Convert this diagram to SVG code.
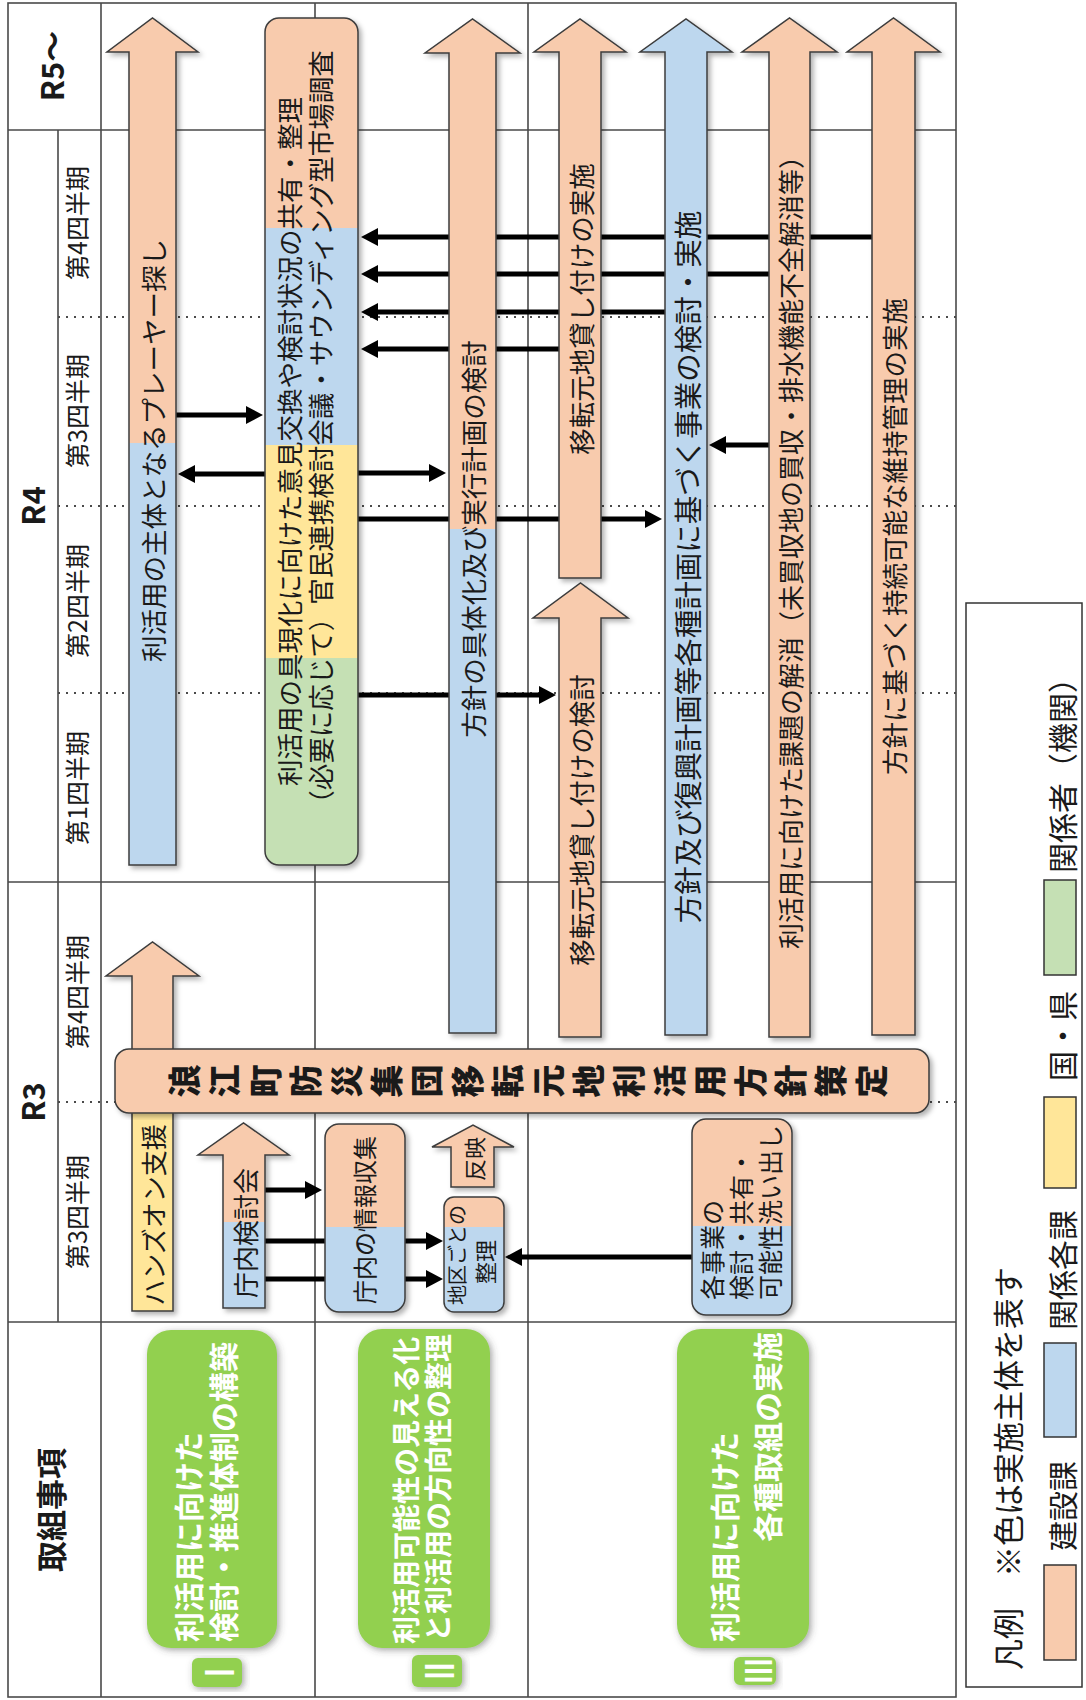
<svg xmlns="http://www.w3.org/2000/svg" width="1086" height="1700" viewBox="0 0 1086 1700">
<style>
.grid{stroke:#4a4a4a;stroke-width:1.6;fill:none}
.dot{stroke:#4a4a4a;stroke-width:2;stroke-dasharray:2 6;fill:none}
.sh{stroke:#3c3c3c;stroke-width:1.5;filter:url(#ds)}
.or{fill:#F8CBAD}
.bl{fill:#BDD7EE}
.ye{fill:#FFE699}
.gr{fill:#C5E0B4}
.lab{fill:#92D050;filter:url(#glow)}
.sw{stroke:#333;stroke-width:1.5}
.conn{stroke:#000;stroke-width:5;fill:none;marker-end:url(#ah)}
text{font-family:"Noto Sans CJK JP","Noto Sans",sans-serif;fill:#1a1a1a;dominant-baseline:central}
.m{text-anchor:middle}
.s{text-anchor:start}
.e{text-anchor:end}
.f26{font-size:26.5px}
.hd{font-weight:700;font-size:31px}
.q{font-size:25px}
.w{fill:#fff;font-weight:700}
.lg{font-size:30px}
.rn{font-size:26px}
</style>
<defs>
<filter id="ds" x="-20%" y="-5%" width="150%" height="115%"><feDropShadow dx="3" dy="3" stdDeviation="2.5" flood-color="#000" flood-opacity="0.3"/></filter>
<filter id="glow" x="-15%" y="-10%" width="130%" height="125%"><feDropShadow dx="2" dy="2" stdDeviation="3.5" flood-color="#444" flood-opacity="0.5"/></filter>
<marker id="ah" markerUnits="userSpaceOnUse" markerWidth="17" markerHeight="18" refX="8" refY="9" orient="auto"><path d="M0,0 L17,9 L0,18 z" fill="#000"/></marker>
<linearGradient id="gA1" gradientUnits="userSpaceOnUse" x1="0" y1="18" x2="0" y2="865"><stop offset="0" stop-color="#F8CBAD"/><stop offset="0.502" stop-color="#F8CBAD"/><stop offset="0.502" stop-color="#BDD7EE"/><stop offset="1" stop-color="#BDD7EE"/></linearGradient>
<linearGradient id="gR2" gradientUnits="userSpaceOnUse" x1="0" y1="18" x2="0" y2="865"><stop offset="0" stop-color="#F8CBAD"/><stop offset="0.248" stop-color="#F8CBAD"/><stop offset="0.248" stop-color="#BDD7EE"/><stop offset="0.504" stop-color="#BDD7EE"/><stop offset="0.504" stop-color="#FFE699"/><stop offset="0.756" stop-color="#FFE699"/><stop offset="0.756" stop-color="#C5E0B4"/><stop offset="1" stop-color="#C5E0B4"/></linearGradient>
<linearGradient id="gA3" gradientUnits="userSpaceOnUse" x1="0" y1="19" x2="0" y2="1033"><stop offset="0" stop-color="#F8CBAD"/><stop offset="0.503" stop-color="#F8CBAD"/><stop offset="0.503" stop-color="#BDD7EE"/><stop offset="1" stop-color="#BDD7EE"/></linearGradient>
<linearGradient id="gAH" gradientUnits="userSpaceOnUse" x1="0" y1="942" x2="0" y2="1311"><stop offset="0" stop-color="#F8CBAD"/><stop offset="0.40" stop-color="#F8CBAD"/><stop offset="0.40" stop-color="#FFE699"/><stop offset="1" stop-color="#FFE699"/></linearGradient>
<linearGradient id="gAK" gradientUnits="userSpaceOnUse" x1="0" y1="1123" x2="0" y2="1308"><stop offset="0" stop-color="#F8CBAD"/><stop offset="0.535" stop-color="#F8CBAD"/><stop offset="0.535" stop-color="#BDD7EE"/><stop offset="1" stop-color="#BDD7EE"/></linearGradient>
<linearGradient id="gRJ" gradientUnits="userSpaceOnUse" x1="0" y1="1124" x2="0" y2="1312"><stop offset="0" stop-color="#F8CBAD"/><stop offset="0.548" stop-color="#F8CBAD"/><stop offset="0.548" stop-color="#BDD7EE"/><stop offset="1" stop-color="#BDD7EE"/></linearGradient>
<linearGradient id="gRC" gradientUnits="userSpaceOnUse" x1="0" y1="1197" x2="0" y2="1312"><stop offset="0" stop-color="#F8CBAD"/><stop offset="0.261" stop-color="#F8CBAD"/><stop offset="0.261" stop-color="#BDD7EE"/><stop offset="1" stop-color="#BDD7EE"/></linearGradient>
<linearGradient id="gRK" gradientUnits="userSpaceOnUse" x1="0" y1="1119" x2="0" y2="1315"><stop offset="0" stop-color="#F8CBAD"/><stop offset="0.546" stop-color="#F8CBAD"/><stop offset="0.546" stop-color="#BDD7EE"/><stop offset="1" stop-color="#BDD7EE"/></linearGradient>
</defs>
<rect width="1086" height="1700" fill="#fff"/>

<g id="table">
<rect class="grid" x="8" y="3" width="948" height="1694"/>
<path class="grid" d="M101,3 V1697 M315,3 V1697 M528,3 V1697 M58,130 V1322 M8,130 H956 M8,882 H956 M8,1322 H956"/>
<path class="dot" d="M58,317 H956 M58,506 H956 M58,693 H956 M58,1102 H956"/>
<text class="m hd" x="50" y="66" transform="rotate(-90 50 66)">R5～</text>
<text class="m hd" x="31" y="506" transform="rotate(-90 31 506)">R4</text>
<text class="m hd" x="31" y="1102" transform="rotate(-90 31 1102)">R3</text>
<text class="m hd" x="49" y="1510" transform="rotate(-90 49 1510)">取組事項</text>
<text class="m q" x="76" y="223" transform="rotate(-90 76 223)">第4四半期</text>
<text class="m q" x="76" y="411" transform="rotate(-90 76 411)">第3四半期</text>
<text class="m q" x="76" y="601" transform="rotate(-90 76 601)">第2四半期</text>
<text class="m q" x="76" y="788" transform="rotate(-90 76 788)">第1四半期</text>
<text class="m q" x="76" y="992" transform="rotate(-90 76 992)">第4四半期</text>
<text class="m q" x="76" y="1212" transform="rotate(-90 76 1212)">第3四半期</text>
</g>

<g id="connectors">
<path class="conn" d="M176,415 H254"/>
<path class="conn" d="M265,474 H187"/>
<path class="conn" d="M358,473 H437"/>
<path class="conn" d="M358,519 H653"/>
<path class="conn" d="M358,695 H547"/>
<path class="conn" d="M769,445 H718"/>
<path class="conn" d="M872,237 H370"/>
<path class="conn" d="M769,274 H370"/>
<path class="conn" d="M665,312 H370"/>
<path class="conn" d="M559,349 H370"/>
<path class="conn" d="M265,1190 H313"/>
<path class="conn" d="M265,1241 H434"/>
<path class="conn" d="M265,1279 H434"/>
<path class="conn" d="M692,1257 H514"/>
</g>

<g id="arrow-player">
<polygon class="sh" fill="url(#gA1)" points="129,865 129,52 107,52 152.5,18 198,52 176,52 176,865"/>
<text class="m f26" x="152.5" y="450.5" transform="rotate(-90 152.5 450.5)">利活用の主体となるプレーヤー探し</text>
</g>

<g id="box-opinion">
<rect class="sh" fill="url(#gR2)" x="265" y="18" width="93" height="847" rx="14"/>
<text class="m f26" x="288" y="441.5" transform="rotate(-90 288 441.5)">利活用の具現化に向けた意見交換や検討状況の共有・整理</text>
<text class="m f26" x="319" y="433.5" transform="rotate(-90 319 433.5)">（必要に応じて）官民連携検討会議・サウンディング型市場調査</text>
</g>

<g id="arrow-policy-plan">
<polygon class="sh" fill="url(#gA3)" points="449,1033 449,53 425,53 472.5,19 520,53 496,53 496,1033"/>
<text class="m f26" x="472.5" y="539" transform="rotate(-90 472.5 539)">方針の具体化及び実行計画の検討</text>
</g>

<g id="arrow-lease-do">
<polygon class="sh or" points="559,578 559,52 534,52 580,19 626,52 601,52 601,578"/>
<text class="m f26" x="580" y="309" transform="rotate(-90 580 309)">移転元地貸し付けの実施</text>
</g>

<g id="arrow-lease-study">
<polygon class="sh or" points="559,1037 559,618 533,618 580.5,583 628,618 601,618 601,1037"/>
<text class="m f26" x="580" y="820" transform="rotate(-90 580 820)">移転元地貸し付けの検討</text>
</g>

<g id="arrow-projects">
<polygon class="sh bl" points="665,1035 665,52 640,52 686,19 732,52 707,52 707,1035"/>
<text class="m" style="font-size:28.5px" x="686" y="567" transform="rotate(-90 686 567)">方針及び復興計画等各種計画に基づく事業の検討・実施</text>
</g>

<g id="arrow-issues">
<polygon class="sh or" points="769,1037 769,52 742,52 789.5,18 837,52 810,52 810,1037"/>
<text class="m" style="font-size:26px" x="789" y="546" transform="rotate(-90 789 546)">利活用に向けた課題の解消（未買収地の買収・排水機能不全解消等）</text>
</g>

<g id="arrow-maintenance">
<polygon class="sh or" points="872,1035 872,52 847,52 893.5,18 940,52 915,52 915,1035"/>
<text class="m f26" x="893" y="536.5" transform="rotate(-90 893 536.5)">方針に基づく持続可能な維持管理の実施</text>
</g>

<g id="arrow-handson">
<polygon class="sh" fill="url(#gAH)" points="132,1311 132,976 106,976 152.5,942 199,976 173,976 173,1311"/>
<text class="m" style="font-size:26px" x="152.5" y="1215" transform="rotate(-90 152.5 1215)">ハンズオン支援</text>
</g>

<g id="arrow-internal-meeting">
<polygon class="sh" fill="url(#gAK)" points="223,1308 223,1155 198,1155 243.5,1123 289,1155 265,1155 265,1308"/>
<text class="m" style="font-size:26px" x="244" y="1233" transform="rotate(-90 244 1233)">庁内検討会</text>
</g>

<g id="box-info">
<rect class="sh" fill="url(#gRJ)" x="325" y="1124" width="80" height="188" rx="14"/>
<text class="m" style="font-size:24px" x="363" y="1220" transform="rotate(-90 363 1220)">庁内の情報収集</text>
</g>

<g id="arrow-reflect">
<polygon class="sh or" points="451,1187 451,1147 432,1147 473,1125 514,1147 494,1147 494,1187"/>
<text class="m" style="font-size:22px" x="472.5" y="1159" transform="rotate(-90 472.5 1159)">反映</text>
</g>

<g id="box-district">
<rect class="sh" fill="url(#gRC)" x="444" y="1197" width="60" height="115" rx="10"/>
<text class="m" style="font-size:20px" x="456" y="1255" transform="rotate(-90 456 1255)">地区ごとの</text>
<text class="m" style="font-size:22px" x="484" y="1262" transform="rotate(-90 484 1262)">整理</text>
</g>

<g id="box-each-project">
<rect class="sh" fill="url(#gRK)" x="692" y="1119" width="100" height="196" rx="14"/>
<text class="s" style="font-size:25px" x="711" y="1300" transform="rotate(-90 711 1300)">各事業の</text>
<text class="s" style="font-size:25px" x="740" y="1300" transform="rotate(-90 740 1300)">検討・共有・</text>
<text class="s" style="font-size:25px" x="769" y="1300" transform="rotate(-90 769 1300)">可能性洗い出し</text>
</g>

<g id="box-policy">
<rect class="sh or" x="115" y="1049" width="814" height="64" rx="14"/>
<text class="m" style="font-size:33px;font-weight:900" transform="rotate(-90 520 1081)" x="520 520 520 520 520 520 520 520 520 520 520 520 520 520 520 520 520 520" y="744 784.4 824.8 865.2 905.6 946 986.4 1026.8 1067.2 1107.6 1148 1188.4 1228.8 1269.2 1309.6 1350 1390.4 1430.8">浪江町防災集団移転元地利活用方針策定</text>
</g>

<g id="item-1">
<rect class="lab" x="147" y="1330" width="130" height="318" rx="24"/>
<text class="s w" style="font-size:30px" x="187" y="1642" transform="rotate(-90 187 1642)">利活用に向けた</text>
<text class="s w" style="font-size:30px" x="222" y="1642" transform="rotate(-90 222 1642)">検討・推進体制の構築</text>
<rect class="lab" x="192" y="1658" width="50" height="29" rx="6"/>
<text class="m w rn" x="0" y="0" transform="translate(218 1672.5) rotate(-90) scale(1 1.5)">Ⅰ</text>
</g>

<g id="item-2">
<rect class="lab" x="358" y="1329" width="132" height="319" rx="24"/>
<text class="s w" style="font-size:28px" x="405" y="1644" transform="rotate(-90 405 1644)">利活用可能性の見える化</text>
<text class="s w" style="font-size:28px" x="437" y="1642" transform="rotate(-90 437 1642)">と利活用の方向性の整理</text>
<rect class="lab" x="412" y="1655" width="50" height="32" rx="6"/>
<text class="m w rn" x="0" y="0" transform="translate(438 1671) rotate(-90) scale(1 1.5)">Ⅱ</text>
</g>

<g id="item-3">
<rect class="lab" x="677" y="1329" width="132" height="319" rx="24"/>
<text class="s w" style="font-size:30px" x="723" y="1642" transform="rotate(-90 723 1642)">利活用に向けた</text>
<text class="e w" style="font-size:30px" x="766" y="1332" transform="rotate(-90 766 1332)">各種取組の実施</text>
<rect class="lab" x="734" y="1657" width="42" height="28" rx="6"/>
<text class="m w rn" x="0" y="0" transform="translate(756 1671) rotate(-90) scale(1 1.4)">Ⅲ</text>
</g>

<g id="legend">
<rect x="966" y="603" width="116" height="1084" fill="#fff" stroke="#333" stroke-width="1.5"/>
<text class="s" style="font-size:31px" x="1006" y="1670" transform="rotate(-90 1006 1670)">凡例　※色は実施主体を表す</text>
<rect class="or sw" x="1044" y="1565" width="32" height="95"/>
<text class="m lg" x="1061" y="1506" transform="rotate(-90 1061 1506)">建設課</text>
<rect class="bl sw" x="1044" y="1343" width="32" height="94"/>
<text class="m lg" x="1061" y="1270" transform="rotate(-90 1061 1270)">関係各課</text>
<rect class="ye sw" x="1044" y="1097" width="32" height="91"/>
<text class="m lg" x="1061" y="1036" transform="rotate(-90 1061 1036)">国・県</text>
<rect class="gr sw" x="1044" y="880" width="32" height="95"/>
<text class="m lg" x="1061" y="768" transform="rotate(-90 1061 768)">関係者（機関）</text>
</g>
</svg>
